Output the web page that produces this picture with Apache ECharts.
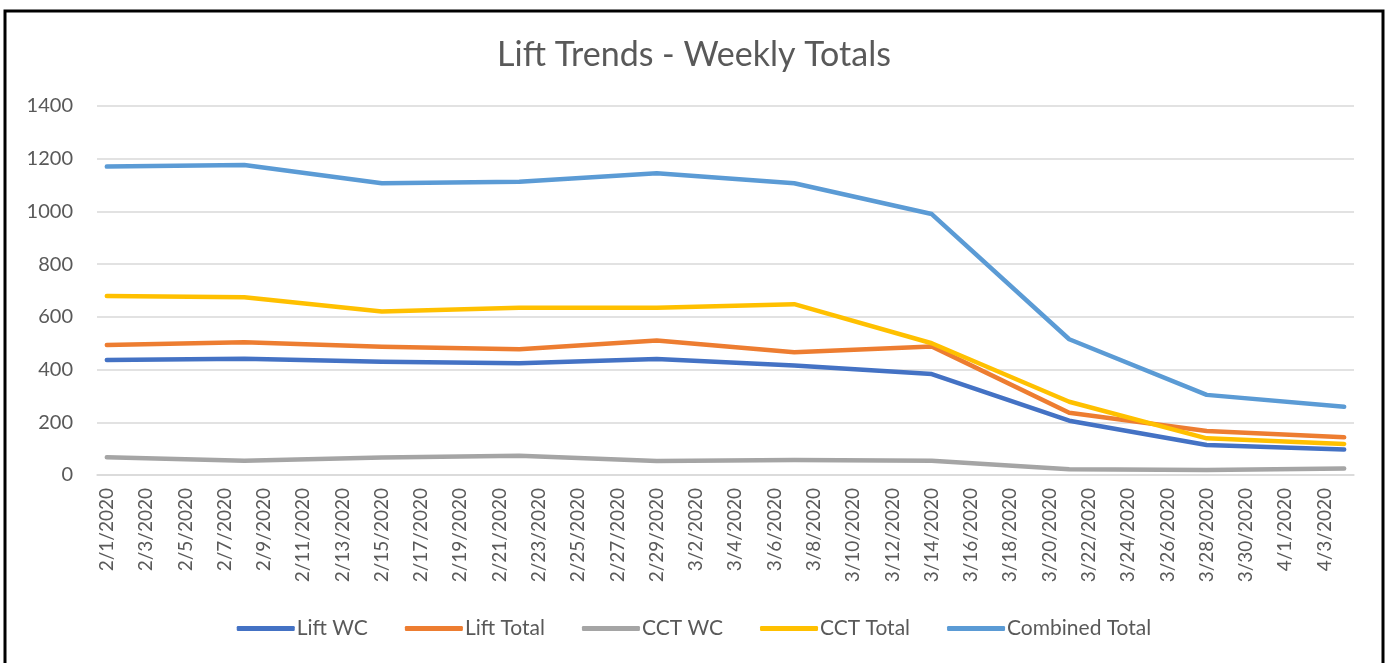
<!DOCTYPE html>
<html>
<head>
<meta charset="utf-8">
<title>Lift Trends - Weekly Totals</title>
<script src="https://cdn.jsdelivr.net/npm/echarts@6/dist/echarts.min.js"></script>
<style>
  html, body { margin: 0; padding: 0; background: #fff; }
  #chart { width: 1388px; height: 663px; }
</style>
</head>
<body>
<div id="chart"></div>
<script>
// weekly dates that carry data
const weekDates = ['2/1/2020', '2/8/2020', '2/15/2020', '2/22/2020', '2/29/2020',
  '3/7/2020', '3/14/2020', '3/21/2020', '3/28/2020', '4/4/2020']

// series values, one per week
const liftWC = [436, 441, 430, 424, 440, 415, 383, 206, 114, 97]
const liftTotal = [493, 504, 487, 477, 510, 466, 488, 236, 167, 143]
const cctWC = [67, 54, 66, 73, 53, 57, 54, 22, 19, 25]
const cctTotal = [679, 674, 620, 635, 635, 648, 500, 278, 139, 118]
const combinedTotal = [1170, 1176, 1107, 1113, 1145, 1107, 990, 515, 304, 259]

const seriesNames = ['Lift WC', 'Lift Total', 'CCT WC', 'CCT Total', 'Combined Total']
const seriesColors = ['#4472C4', '#ED7D31', '#A5A5A5', '#FFC000', '#5B9BD5']

// date axis: every day from 2/1/2020 to 4/4/2020
const days = []
for (let d = new Date(2020, 1, 1); d <= new Date(2020, 3, 4); d.setDate(d.getDate() + 1)) {
  days.push((d.getMonth() + 1) + '/' + d.getDate() + '/' + d.getFullYear())
}

// put weekly values on their day, leave the rest empty
function toDaily(values) {
  const out = days.map(() => null)
  weekDates.forEach((w, i) => { out[days.indexOf(w)] = values[i] })
  return out
}

const textColor = '#595959'
const gridColor = '#D9D9D9'
const font = 'Lato'

const chart = echarts.init(document.getElementById('chart'))
chart.setOption({
  animation: false,
  title: {
    text: 'Lift Trends - Weekly Totals',
    left: 'center',
    top: 33,
    textStyle: { fontFamily: font, fontSize: 34, fontWeight: 'normal', color: textColor }
  },
  legend: {
    bottom: 19,
    left: 'center',
    icon: 'roundRect',
    itemWidth: 58,
    itemHeight: 5,
    itemGap: 37,
    textStyle: { fontFamily: font, fontSize: 21, color: textColor, padding: [0, 0, 0, -3] },
    data: seriesNames
  },
  grid: { left: 97, right: 34, top: 106, bottom: 188 },
  xAxis: {
    type: 'category',
    data: days,
    boundaryGap: true,
    axisLine: { lineStyle: { color: gridColor, width: 1.5 } },
    axisTick: { interval: 1, length: 6, lineStyle: { color: gridColor, width: 1.5 } },
    axisLabel: {
      interval: 1,
      rotate: 90,
      margin: 13,
      fontFamily: font,
      fontSize: 19,
      color: textColor
    }
  },
  yAxis: {
    type: 'value',
    min: 0,
    max: 1400,
    interval: 200,
    axisLine: { show: false },
    axisTick: { show: false },
    splitLine: { lineStyle: { color: gridColor, width: 1.5 } },
    axisLabel: { fontFamily: font, fontSize: 20, color: textColor, margin: 24, formatter: v => String(v) }
  },
  series: [liftWC, liftTotal, cctWC, cctTotal, combinedTotal].map((vals, i) => ({
    type: 'line',
    name: seriesNames[i],
    data: toDaily(vals),
    connectNulls: true,
    symbol: 'none',
    color: seriesColors[i],
    lineStyle: { width: 4.5, cap: 'round', join: 'round' }
  })),
  graphic: [{
    type: 'rect',
    shape: { x: 5, y: 11, width: 1378, height: 700 },
    style: { fill: 'none', stroke: '#000', lineWidth: 3 },
    silent: true
  }]
})
</script>
</body>
</html>
